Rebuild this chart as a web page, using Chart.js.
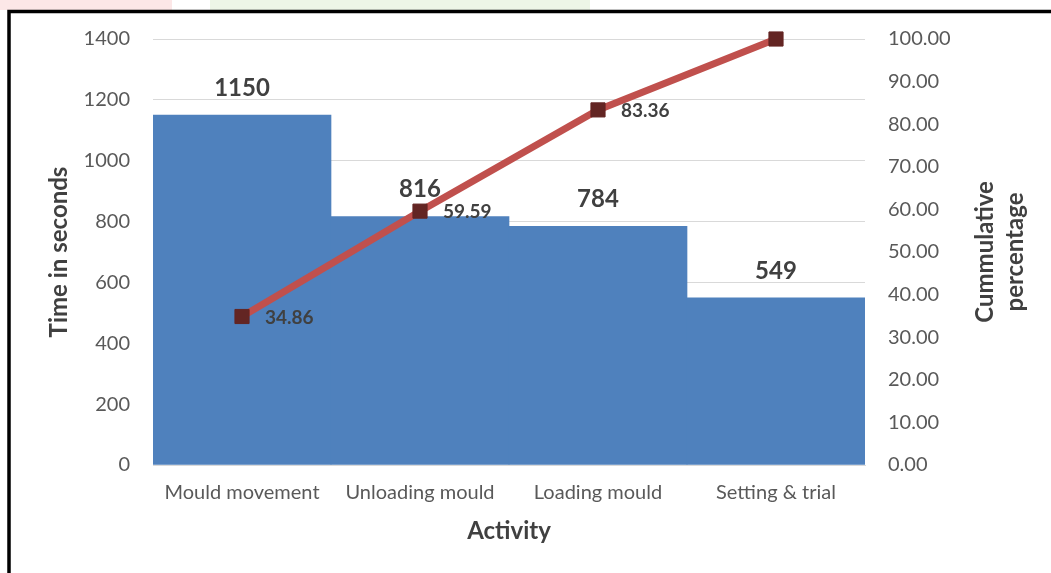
<!DOCTYPE html>
<html>
<head>
<meta charset="utf-8">
<script src="https://cdn.jsdelivr.net/npm/chart.js@4.4.1/dist/chart.umd.min.js"></script>
<style>
  html, body { margin: 0; padding: 0; background: #ffffff; }
  #wrap { width: 1051px; height: 573px; position: relative; }
</style>
</head>
<body>
<div id="wrap"><canvas id="chart" width="1051" height="573"></canvas></div>
<script>
// Activities and their times (seconds)
const activities = ['Mould movement', 'Unloading mould', 'Loading mould', 'Setting & trial'];
const timeSeconds = [1150, 816, 784, 549];
// Cumulative percentage of total time
const cumulativePct = [34.86, 59.59, 83.36, 100];
// Which cumulative points carry a value label
const showPctLabel = [true, true, true, false];

const FONT = 'Lato, "Open Sans", "Liberation Sans", sans-serif';
const TEXT_DARK = '#404040';
const TICK_GREY = '#595959';

// Page frame and faint header strip
const framePlugin = {
  id: 'frame',
  beforeDraw(chart) {
    const ctx = chart.ctx;
    ctx.save();
    ctx.fillStyle = '#ffffff';
    ctx.fillRect(0, 0, chart.width, chart.height);
    ctx.fillStyle = 'rgba(250, 215, 215, 0.6)';
    ctx.fillRect(0, 0, 172, 10);
    ctx.fillStyle = 'rgba(225, 240, 215, 0.6)';
    ctx.fillRect(210, 0, 380, 10);
    ctx.strokeStyle = '#000000';
    ctx.lineWidth = 3.5;
    ctx.beginPath();
    ctx.moveTo(9, chart.height);
    ctx.lineTo(9, 11.5);
    ctx.lineTo(chart.width, 11.5);
    ctx.stroke();
    ctx.restore();
  }
};

// Value labels: bar labels sit under the line, percentage labels on top
const labelPlugin = {
  id: 'valueLabels',
  afterDatasetDraw(chart, args) {
    if (chart.data.datasets[args.index].type !== 'bar') return;
    const ctx = chart.ctx;
    ctx.save();
    ctx.fillStyle = TEXT_DARK;
    ctx.font = 'bold 24px ' + FONT;
    ctx.textAlign = 'center';
    ctx.textBaseline = 'middle';
    args.meta.data.forEach((el, i) => {
      ctx.fillText(String(timeSeconds[i]), el.x, el.y - 27);
    });
    ctx.restore();
  },
  afterDatasetsDraw(chart) {
    const ctx = chart.ctx;
    ctx.save();
    ctx.fillStyle = TEXT_DARK;
    chart.data.datasets.forEach((ds, di) => {
      if (ds.type !== 'line') return;
      const meta = chart.getDatasetMeta(di);
      ctx.font = 'bold 19px ' + FONT;
      ctx.textAlign = 'left';
      ctx.textBaseline = 'middle';
      meta.data.forEach((el, i) => {
        if (!showPctLabel[i]) return;
        ctx.fillText(cumulativePct[i].toFixed(2), el.x + 23, el.y + 1);
      });
    });

    // Right axis title, two lines reading bottom to top
    const area = chart.chartArea;
    const cy = (area.top + area.bottom) / 2;
    ctx.font = 'bold 24px ' + FONT;
    ctx.textAlign = 'center';
    ctx.textBaseline = 'middle';
    ctx.translate(1000, cy);
    ctx.rotate(-Math.PI / 2);
    ctx.fillText('Cummulative', 0, -15);
    ctx.fillText('percentage', 0, 15);
    ctx.restore();
  }
};

new Chart(document.getElementById('chart'), {
  data: {
    labels: activities,
    datasets: [
      {
        type: 'line',
        label: 'Cumulative percentage',
        data: cumulativePct,
        yAxisID: 'y1',
        borderColor: '#C0504D',
        borderWidth: 7,
        pointStyle: 'rect',
        pointRadius: 10,
        pointHoverRadius: 10,
        pointBackgroundColor: '#632523',
        pointBorderColor: '#632523',
        pointBorderWidth: 1,
        tension: 0,
        clip: false,
        order: 0
      },
      {
        type: 'bar',
        label: 'Time in seconds',
        data: timeSeconds,
        yAxisID: 'y',
        backgroundColor: '#4F81BD',
        borderWidth: 0,
        barPercentage: 1,
        categoryPercentage: 1,
        order: 1
      }
    ]
  },
  options: {
    responsive: false,
    animation: false,
    layout: { padding: { top: 39, left: 0, right: 0, bottom: 0 } },
    plugins: {
      legend: { display: false },
      tooltip: { enabled: false }
    },
    scales: {
      x: {
        position: 'bottom',
        grid: { display: false, drawTicks: false },
        border: { display: true, color: '#d9d9d9', width: 1 },
        ticks: { color: TICK_GREY, font: { family: FONT, size: 20 }, padding: 16, maxRotation: 0 },
        title: {
          display: true,
          text: 'Activity',
          color: TEXT_DARK,
          font: { family: FONT, size: 24, weight: 'bold' },
          padding: { top: 0, bottom: 27 }
        },
        afterFit(scale) { scale.height = 108; }
      },
      y: {
        position: 'left',
        min: 0,
        max: 1400,
        ticks: {
          stepSize: 200,
          color: TICK_GREY,
          font: { family: FONT, size: 20 },
          padding: 23,
          callback: (v) => String(v)
        },
        grid: { color: '#d9d9d9', lineWidth: 1, drawTicks: false },
        border: { display: false },
        title: {
          display: true,
          text: 'Time in seconds',
          color: TEXT_DARK,
          font: { family: FONT, size: 24, weight: 'bold' },
          padding: { top: 45, bottom: 0 }
        },
        afterFit(scale) { scale.width = 153; }
      },
      y1: {
        position: 'right',
        min: 0,
        max: 100,
        ticks: {
          stepSize: 10,
          color: TICK_GREY,
          font: { family: FONT, size: 20 },
          padding: 23,
          callback: (v) => Number(v).toFixed(2)
        },
        grid: { display: false, drawTicks: false },
        border: { display: false },
        afterFit(scale) { scale.width = 186; }
      }
    }
  },
  plugins: [framePlugin, labelPlugin]
});
</script>
</body>
</html>
